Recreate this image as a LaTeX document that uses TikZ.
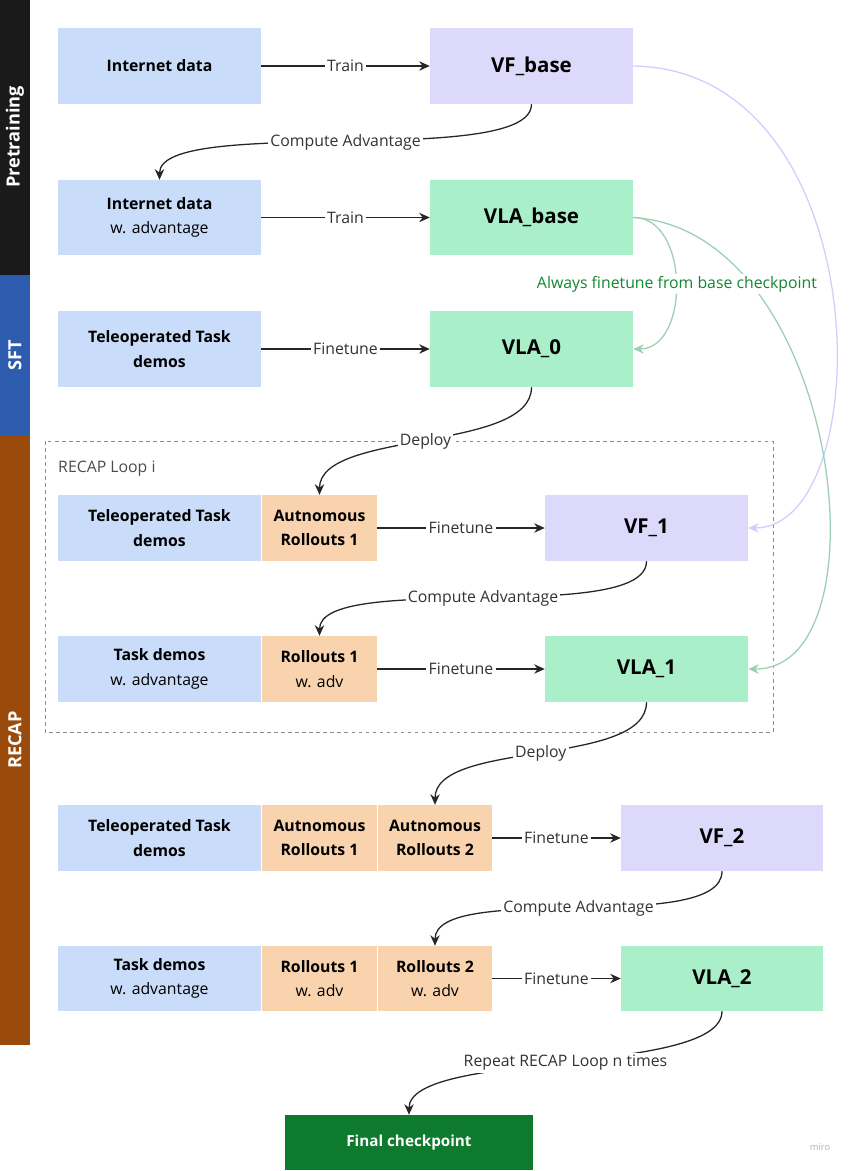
\documentclass[tikz,border=0pt]{standalone}
\usepackage{fontspec}
\setmainfont{Open Sans}
\usetikzlibrary{arrows.meta}
\definecolor{dblue}{HTML}{C9DCF9}
\definecolor{lav}{HTML}{DDD9FB}
\definecolor{mint}{HTML}{A9EFC9}
\definecolor{peach}{HTML}{F8D3AE}
\definecolor{fgreen}{HTML}{0E7A2E}
\definecolor{tgreen}{HTML}{12882F}
\definecolor{pbar}{HTML}{1A1A1A}
\definecolor{sbar}{HTML}{2D5BAE}
\definecolor{rbar}{HTML}{9A4A0A}
\tikzset{
  box/.style={draw=none, inner sep=0pt, align=center, font=\bfseries\fontsize{13.5}{21}\selectfont},
  model/.style={box, font=\bfseries\fontsize{17.5}{20}\selectfont},
  flow/.style={draw=black!85, line width=1.1pt, -{Stealth[length=9pt,width=8pt]}},
  lbl/.style={fill=white, inner sep=2pt, font=\fontsize{13.5}{16}\selectfont, text=black!80},
  bar/.style={inner sep=0pt, text=white, font=\bfseries\fontsize{15.5}{18}\selectfont}
}
\newcommand{\cell}[6]{% name, color, x0, y0, x1, y1
  \fill[#2] (#3,#4) rectangle (#5,#6);
  \node[inner sep=0pt] (#1) at ({(#3+#5)/2},{(#4+#6)/2}) [minimum width={(#5-#3)*0.03cm}, minimum height={(#6-#4)*0.03cm}] {};}
\begin{document}
\begin{tikzpicture}[x=0.03cm,y=-0.03cm]
\useasboundingbox (0,0) rectangle (853,1171);

% side bars
\fill[pbar] (0,0) rectangle (30,275);
\fill[sbar] (0,275) rectangle (30,435);
\fill[rbar] (0,435) rectangle (30,1045);
\node[bar, rotate=90] at (15,137) {Pretraining};
\node[bar, rotate=90] at (15,355) {SFT};
\node[bar, rotate=90] at (15,740) {RECAP};

% pretraining
\cell{inet}{dblue}{58}{28}{261}{104}
\node[box] at (inet) {Internet data};
\cell{vfb}{lav}{430}{28}{633}{104}
\node[model] at (vfb) {VF\_base};
\cell{inetadv}{dblue}{58}{180}{261}{255}
\node[box] at (inetadv) {Internet data\\\mdseries w. advantage};
\cell{vlab}{mint}{430}{180}{633}{255}
\node[model] at (vlab) {VLA\_base};

% sft
\cell{demo0}{dblue}{58}{311}{261}{387}
\node[box] at (demo0) {Teleoperated Task\\demos};
\cell{vla0}{mint}{430}{311}{633}{387}
\node[model] at (vla0) {VLA\_0};

% recap loop
\draw[black!45, dashed] (45,441) rectangle (773,732);
\node[anchor=west, inner sep=0pt, text=black!70, font=\fontsize{13.5}{16}\selectfont] (looplbl) at (58,469) {RECAP Loop i};

\cell{demo1}{dblue}{58}{495}{261}{561}
\node[box] at (demo1) {Teleoperated Task\\demos};
\cell{ar1}{peach}{262}{495}{377}{561}
\node[box] at (ar1) {Autnomous\\Rollouts 1};
\cell{vf1}{lav}{545}{495}{748}{561}
\node[model] at (vf1) {VF\_1};

\cell{tda1}{dblue}{58}{636}{261}{702}
\node[box] at (tda1) {Task demos\\\mdseries w. advantage};
\cell{ra1}{peach}{262}{636}{377}{702}
\node[box] at (ra1) {Rollouts 1\\\mdseries w. adv};
\cell{vla1}{mint}{545}{636}{748}{702}
\node[model] at (vla1) {VLA\_1};

% second iteration
\cell{demo2}{dblue}{58}{805}{261}{871}
\node[box] at (demo2) {Teleoperated Task\\demos};
\cell{ar21}{peach}{262}{805}{377}{871}
\node[box] at (ar21) {Autnomous\\Rollouts 1};
\cell{ar22}{peach}{378}{805}{492}{871}
\node[box] at (ar22) {Autnomous\\Rollouts 2};
\cell{vf2}{lav}{621}{805}{823}{871}
\node[model] at (vf2) {VF\_2};

\cell{tda2}{dblue}{58}{946}{261}{1011}
\node[box] at (tda2) {Task demos\\\mdseries w. advantage};
\cell{ra21}{peach}{262}{946}{377}{1011}
\node[box] at (ra21) {Rollouts 1\\\mdseries w. adv};
\cell{ra22}{peach}{378}{946}{492}{1011}
\node[box] at (ra22) {Rollouts 2\\\mdseries w. adv};
\cell{vla2}{mint}{621}{946}{823}{1011}
\node[model] at (vla2) {VLA\_2};

\cell{final}{fgreen}{285}{1115}{533}{1170}
\node[box, text=white, font=\bfseries\fontsize{13}{15}\selectfont] at (final) {Final checkpoint};

\node[text=black!30, font=\fontsize{8}{10}\selectfont] (miro) at (820,1147) {miro};

% straight connectors
\draw[flow] (inet.east) -- node[lbl] {Train} (vfb.west);
\draw[flow] (inetadv.east) -- node[lbl] {Train} (vlab.west);
\draw[flow] (demo0.east) -- node[lbl] {Finetune} (vla0.west);
\draw[flow] (ar1.east) -- node[lbl] {Finetune} (vf1.west);
\draw[flow] (ra1.east) -- node[lbl] {Finetune} (vla1.west);
\draw[flow] (ar22.east) -- node[lbl] {Finetune} (vf2.west);
\draw[flow] (ra22.east) -- node[lbl] {Finetune} (vla2.west);

% curved connectors
\draw[flow] (vfb.south) .. controls +(0,65) and +(0,-65) .. node[lbl] {Compute Advantage} (inetadv.north);
\draw[flow] (vla0.south) .. controls +(0,65) and +(0,-65) .. node[lbl] {Deploy} (ar1.north);
\draw[flow] (vf1.south) .. controls +(0,65) and +(0,-65) .. node[lbl] {Compute Advantage} (ra1.north);
\draw[flow] (vla1.south) .. controls +(0,65) and +(0,-65) .. node[lbl] {Deploy} (ar22.north);
\draw[flow] (vf2.south) .. controls +(0,65) and +(0,-65) .. node[lbl] {Compute Advantage} (ra22.north);
\draw[flow] (vla2.south) .. controls +(0,65) and +(0,-65) .. node[lbl] {Repeat RECAP Loop n times} (final.north);

% base checkpoint links
\draw[lav!80!blue!60, line width=1.1pt, -{Stealth[length=9pt,width=8pt]}]
  (vfb.east) .. controls (880,70) and (880,528) .. (vf1.east);
\draw[mint!85!black!90, line width=1.1pt, -{Stealth[length=9pt,width=8pt]}]
  (vlab.east) .. controls (690,217) and (690,349) .. (vla0.east);
\draw[mint!85!black!90, line width=1.1pt, -{Stealth[length=9pt,width=8pt]}]
  (vlab.east) .. controls (840,230) and (890,670) .. (vla1.east);
\node[fill=white, inner sep=2pt, text=tgreen, font=\fontsize{13.5}{16}\selectfont] (basenote) at (677,284) {Always finetune from base checkpoint};
\end{tikzpicture}
\end{document}
